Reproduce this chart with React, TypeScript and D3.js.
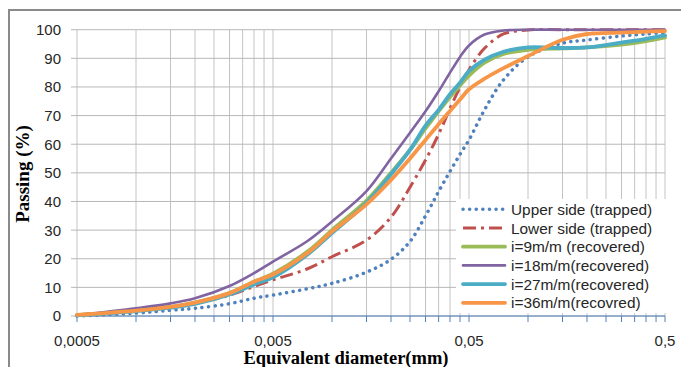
import React from "react";
import * as d3 from "d3";

const diameters = [0.0005, 0.001, 0.0015, 0.002, 0.003, 0.004, 0.005, 0.0075, 0.01, 0.015, 0.02, 0.025, 0.03, 0.035, 0.04, 0.045, 0.05, 0.06, 0.075, 0.1, 0.15, 0.2, 0.3, 0.4, 0.5];

const upperSide = [0, 1, 2, 2.7, 4.3, 6.2, 7.3, 9.5, 11.4, 15.3, 19.8, 26, 35, 43.5, 50.5, 56.5, 61.5, 72, 82.5, 90.5, 95.3, 96.4, 97.8, 98.5, 99];
const lowerSide = [0.3, 1.8, 3, 4.4, 7.3, 10.3, 12.6, 16.5, 20.7, 26.5, 34.5, 45, 54.5, 63.5, 72.5, 80, 86, 93.5, 98.5, 99.9, 100, 100, 100, 100, 100];
const i9 = [0.3, 1.9, 3.2, 4.7, 8, 12, 14.8, 22.5, 30, 40.3, 50, 58, 65.5, 71.5, 76.5, 80.5, 84, 88.5, 91.5, 93, 93.5, 93.8, 94.8, 96, 97.3];
const i18 = [0.3, 2.7, 4.4, 6.2, 10.5, 15, 19, 26.2, 33, 43.6, 55, 64, 71.5, 78.5, 85, 90.5, 94.5, 98.3, 99.7, 100, 100, 100, 100, 100, 100];
const i27 = [0.2, 1.7, 2.9, 4.2, 7.5, 11, 13.5, 21.5, 29, 39.5, 49.5, 58, 66.5, 72, 77.5, 81.5, 85.5, 89.5, 92.3, 93.8, 93.6, 93.8, 95.5, 96.8, 98];
const i36 = [0.4, 1.9, 3.2, 4.7, 8, 12, 14.5, 22, 29.5, 39, 47.5, 55, 61.5, 67, 71.6, 75.6, 79.2, 82.9, 86.6, 90.8, 96.5, 98.5, 99, 99.3, 99.5];

const seriesNames = ["Upper side (trapped)", "Lower side (trapped)", "i=9m/m (recovered)", "i=18m/m(recovered)", "i=27m/m(recovered)", "i=36m/m(recovred)"];
const seriesValues = [upperSide, lowerSide, i9, i18, i27, i36];

const xTickValues = [0.0005, 0.005, 0.05, 0.5];
const xTickLabels = ["0,0005", "0,005", "0,05", "0,5"];
const yTicks = [0, 10, 20, 30, 40, 50, 60, 70, 80, 90, 100];

const styles = [
  { color: "#4F81BD", width: 3.5, dash: "0.1 6.5", cap: "round" },
  { color: "#C0504D", width: 3, dash: "13 5 3 5", cap: "butt" },
  { color: "#9BBB59", width: 3.8, dash: "", cap: "round" },
  { color: "#8064A2", width: 2.6, dash: "", cap: "round" },
  { color: "#4BACC6", width: 3.8, dash: "", cap: "round" },
  { color: "#F79646", width: 3.8, dash: "", cap: "round" },
];

export default function App() {
  const W = 681, H = 367;
  const x = d3.scaleLog().domain([0.0005, 0.5]).range([77, 665]);
  const y = d3.scaleLinear().domain([0, 100]).range([316, 29.7]);

  const minor: number[] = [];
  [0.0005, 0.005, 0.05].forEach((b) => {
    for (let k = 1; k <= 9; k++) minor.push(b * k);
  });
  minor.push(0.5);

  const line = d3
    .line<number>()
    .x((_, i) => x(diameters[i]))
    .y((v) => y(v))
    .curve(d3.curveCatmullRom.alpha(0.5));

  const sans = "'Liberation Sans', Arial, sans-serif";
  const serif = "'Liberation Serif', 'Times New Roman', serif";

  return (
    <svg width={W} height={H} style={{ position: "absolute", left: 0, top: 0 }}>
      <rect x={0} y={0} width={W} height={H} fill="#fff" />
      <path d={`M9,${H + 5} V10 H${W + 5}`} fill="none" stroke="#8a8a8a" strokeWidth={2} />
      {minor.map((v, i) => (
        <line key={"gx" + i} x1={x(v)} x2={x(v)} y1={y(100)} y2={y(0)} stroke="#c4c4c4" strokeWidth={1} />
      ))}
      {yTicks.map((t) => (
        <line key={"gy" + t} x1={71} x2={x(0.5)} y1={y(t)} y2={y(t)} stroke="#b8b8b8" strokeWidth={1} />
      ))}
      <line x1={x(0.0005)} x2={x(0.5)} y1={y(0)} y2={y(0)} stroke="#4F81BD" strokeWidth={1.2} />
      {minor.map((v, i) => (
        <line key={"tx" + i} x1={x(v)} x2={x(v)} y1={y(0)} y2={y(0) + 6} stroke="#4F81BD" strokeWidth={1} />
      ))}
      {yTicks.map((t) => (
        <text key={"ly" + t} x={61} y={y(t)} dy="0.36em" textAnchor="end" fontFamily={sans} fontSize={15} fill="#262626">
          {t}
        </text>
      ))}
      {xTickValues.map((v, i) => (
        <text key={"lx" + i} x={x(v)} y={346} textAnchor="middle" fontFamily={sans} fontSize={15} fill="#262626">
          {xTickLabels[i]}
        </text>
      ))}
      {seriesValues.map((vals, i) => (
        <path
          key={"s" + i}
          d={line(vals) || ""}
          fill="none"
          stroke={styles[i].color}
          strokeWidth={styles[i].width}
          strokeDasharray={styles[i].dash}
          strokeLinecap={styles[i].cap as any}
          strokeLinejoin="round"
        />
      ))}
      <text x={346} y={364} textAnchor="middle" fontFamily={serif} fontWeight="bold" fontSize={18.5} fill="#000">
        Equivalent diameter(mm)
      </text>
      <text transform="translate(29,174) rotate(-90)" textAnchor="middle" fontFamily={serif} fontWeight="bold" fontSize={19} fill="#000">
        Passing (%)
      </text>
      <rect x={456} y={199} width={211} height={114} fill="#fff" />
      {seriesNames.map((n, i) => {
        const cy = 209.3 + i * 18.7;
        return (
          <g key={"lt" + i}>
            <line
              x1={463}
              x2={505}
              y1={cy}
              y2={cy}
              stroke={styles[i].color}
              strokeWidth={styles[i].width}
              strokeDasharray={styles[i].dash}
              strokeLinecap={styles[i].cap as any}
            />
            <text x={511} y={cy} dy="0.36em" fontFamily={sans} fontSize={15.4} fill="#262626">
              {n}
            </text>
          </g>
        );
      })}
    </svg>
  );
}
